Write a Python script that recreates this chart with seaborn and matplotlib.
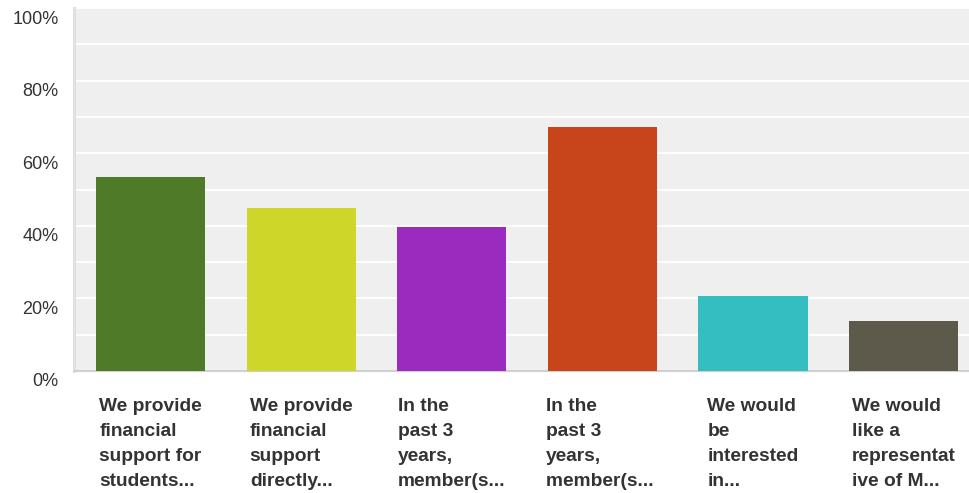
import matplotlib
matplotlib.use("Agg")
import matplotlib.pyplot as plt
from matplotlib.transforms import ScaledTranslation
from matplotlib.ticker import MultipleLocator, FuncFormatter
import seaborn as sns
import pandas as pd

# Survey answers (labels truncated as in the survey export) and share of respondents
categories = [
    "We provide\nfinancial\nsupport for\nstudents...",
    "We provide\nfinancial\nsupport\ndirectly...",
    "In the\npast 3\nyears,\nmember(s...",
    "In the\npast 3\nyears,\nmember(s... ",
    "We would\nbe\ninterested\nin...",
    "We would\nlike a\nrepresentat\nive of M...",
]
percentages = [53.45, 44.83, 39.66, 67.24, 20.69, 13.79]
colors = ["#4f7a28", "#cfd62a", "#9b2bbf", "#c8441b", "#34bec1", "#5d5a4c"]

df = pd.DataFrame({"answer": categories, "pct": percentages})

sns.set_theme(style="white")
plt.rcParams["font.family"] = ["Liberation Sans", "DejaVu Sans"]

fig = plt.figure(figsize=(9.69, 4.93), dpi=100)
ax = fig.add_axes([74 / 969, (493 - 371) / 493, 1 - 74 / 969, (371 - 8) / 493])
ax.set_facecolor("#efefef")

sns.barplot(data=df, x="answer", y="pct", hue="answer", palette=colors,
            legend=False, width=0.724, saturation=1, linewidth=0,
            edgecolor="none", ax=ax, zorder=3)

ax.set_ylim(0, 100)
ax.set_xlim(-0.508, 5.434)
ax.yaxis.set_major_locator(MultipleLocator(20))
ax.yaxis.set_minor_locator(MultipleLocator(10))
ax.yaxis.set_major_formatter(FuncFormatter(lambda v, p: f"{int(v)}%"))
ax.grid(axis="y", which="both", color="white", linewidth=1.3, zorder=1)
ax.set_axisbelow(True)

ax.set_xlabel("")
ax.set_ylabel("")

for side in ("top", "right"):
    ax.spines[side].set_visible(False)
ax.spines["left"].set_color("#e0e0e0")
ax.spines["left"].set_linewidth(2.2)
ax.spines["bottom"].set_color("#d0d0d0")
ax.spines["bottom"].set_linewidth(1.5)

ax.tick_params(axis="y", which="both", length=0, pad=11, labelsize=13, labelcolor="#333333")
ax.tick_params(axis="x", length=0, pad=19.5, labelsize=13.8, labelcolor="#333333")

offset = ScaledTranslation(0, -0.09, fig.dpi_scale_trans)
for lab in ax.get_yticklabels():
    lab.set_transform(lab.get_transform() + offset)

for lab in ax.get_xticklabels():
    lab.set_fontweight("bold")
    lab.set_horizontalalignment("center")
    lab.set_multialignment("left")
    lab.set_linespacing(1.61)

fig.savefig("out.png", dpi=100)
